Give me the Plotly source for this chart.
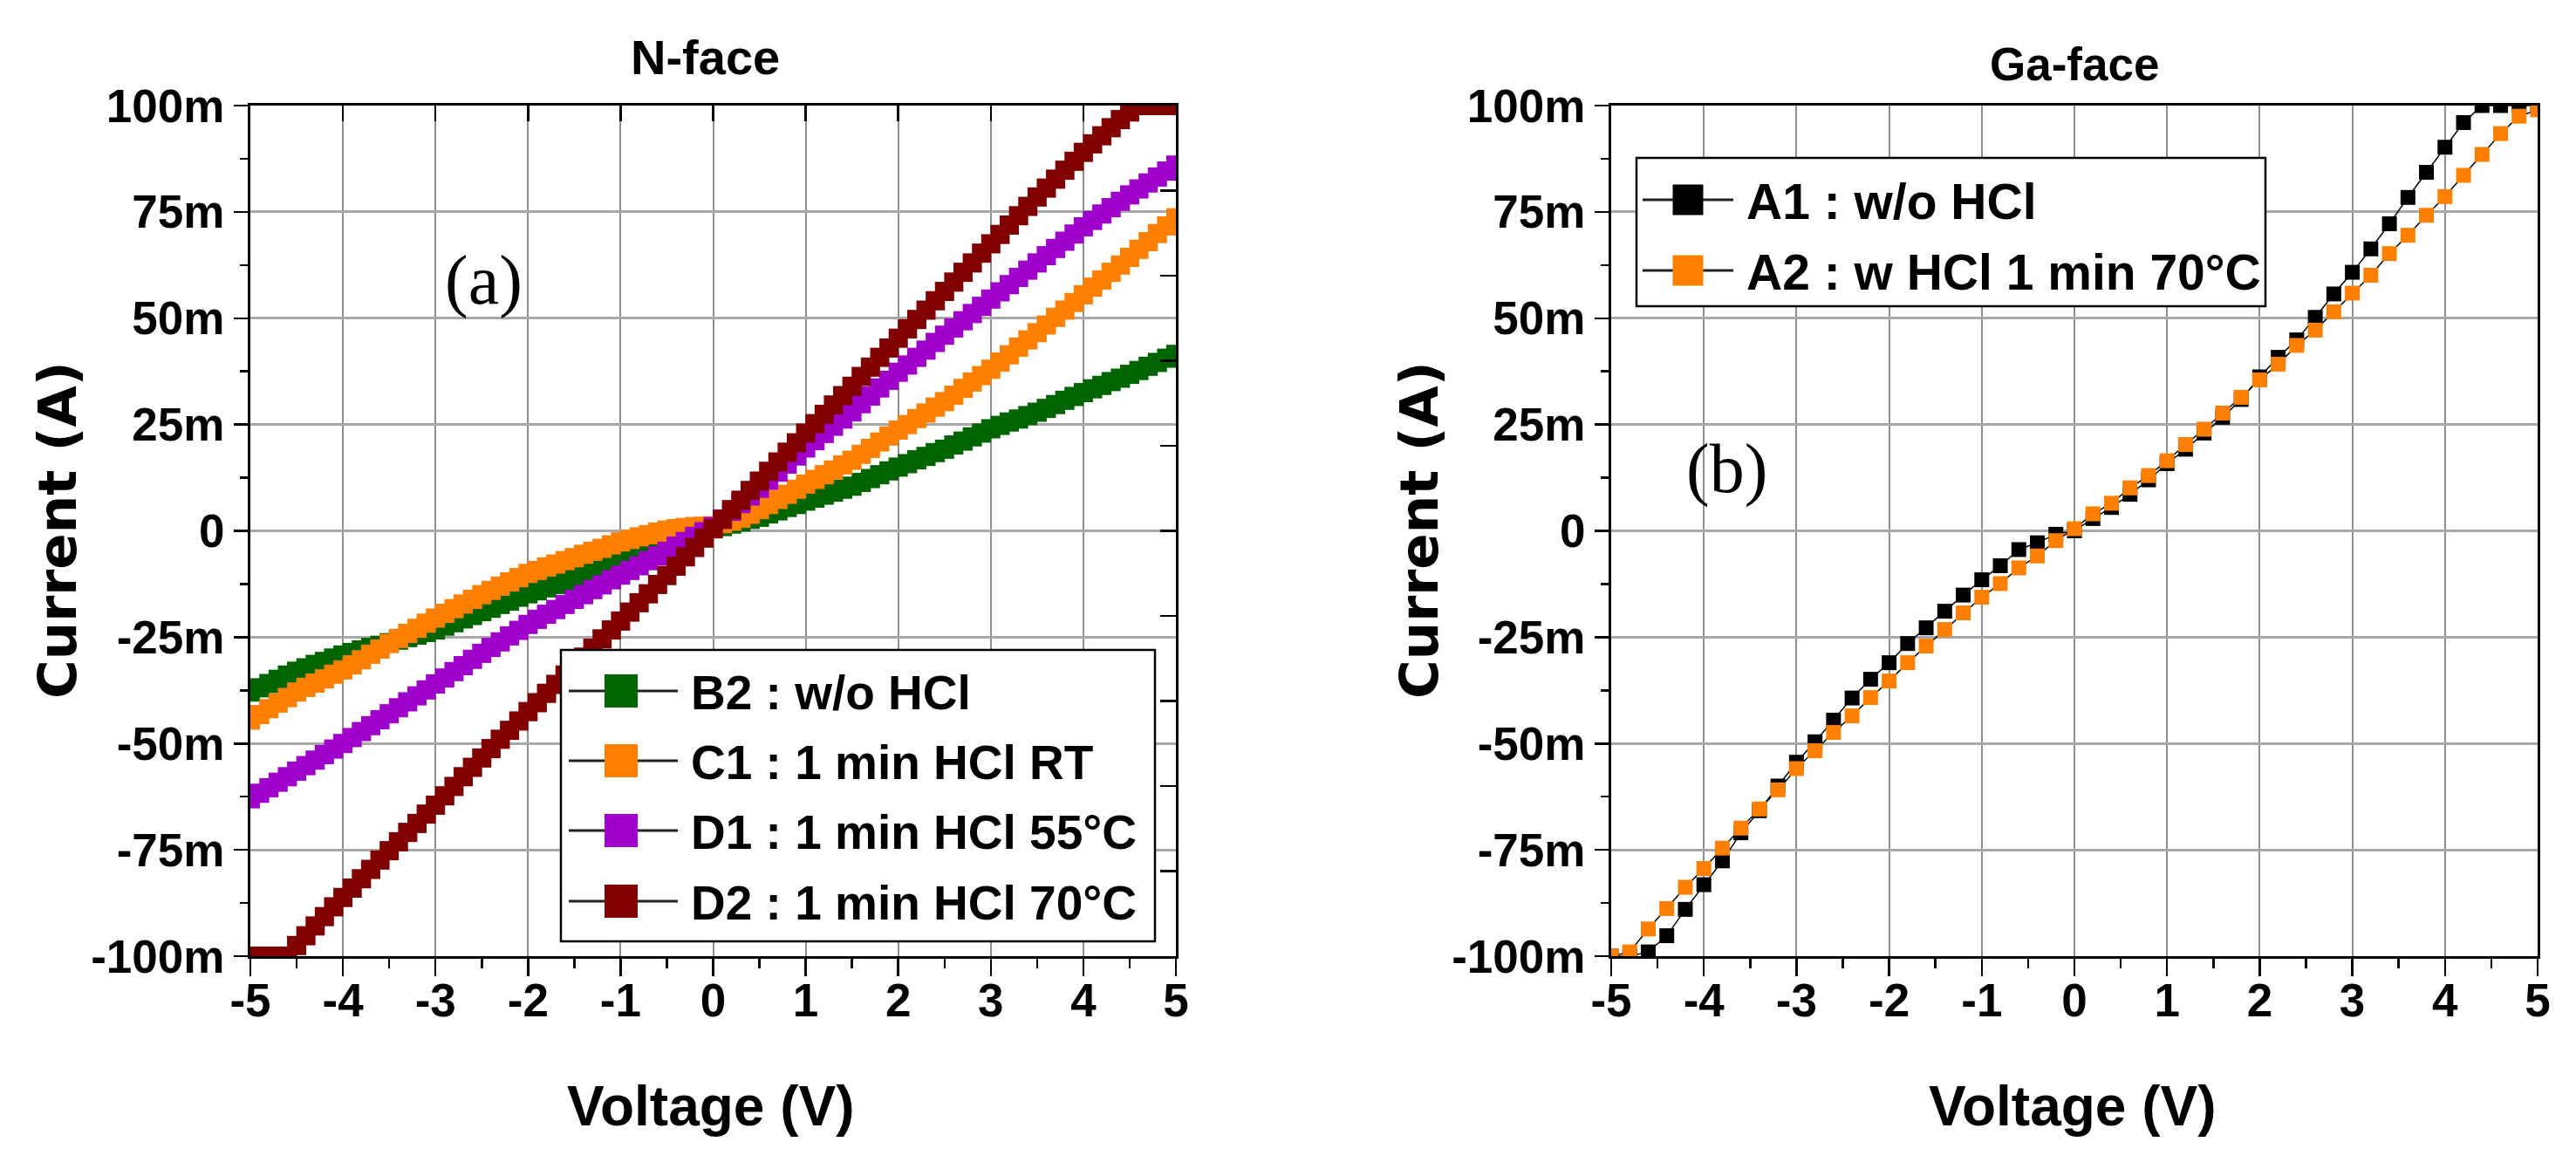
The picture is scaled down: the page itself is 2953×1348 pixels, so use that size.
import plotly.graph_objects as go

W, H = 2953, 1348

# ---------------- data ----------------
# N-face sweep: -5 V .. 5 V in 0.1 V steps
voltage_nface = [round(-5 + 0.1 * i, 1) for i in range(101)]
# Ga-face sweep: -5 V .. 5 V in 0.2 V steps
voltage_gaface = [round(-5 + 0.2 * i, 1) for i in range(51)]

# currents in mA (axis labels carry the "m")
b2_current = [-37.9, -36.9, -35.9, -34.9, -33.9, -33.0, -32.2, -31.4, -30.7, -29.9,
              -29.2, -28.6, -28.0, -27.4, -26.9, -26.3, -25.7, -25.1, -24.5, -23.9,
              -23.3, -22.4, -21.6, -20.7, -19.9, -19.0, -18.2, -17.3, -16.5, -15.6,
              -14.8, -14.1, -13.4, -12.6, -11.9, -11.2, -10.5, -9.7, -9.0, -8.2,
              -7.5, -6.8, -6.1, -5.4, -4.7, -4.0, -3.1, -2.2, -1.3, -0.4,
              0.5, 1.0, 1.6, 2.1, 2.7, 3.2, 4.0, 4.7, 5.5, 6.2,
              7.0, 7.7, 8.4, 9.1, 9.8, 10.5, 11.4, 12.3, 13.2, 14.1,
              15.0, 15.8, 16.7, 17.5, 18.4, 19.2, 20.2, 21.1, 22.1, 23.0,
              24.0, 24.8, 25.6, 26.3, 27.1, 27.9, 28.8, 29.7, 30.7, 31.6,
              32.5, 33.4, 34.2, 35.1, 35.9, 36.8, 37.7, 38.7, 39.6, 40.6,
              41.5]
c1_current = [-44.5, -43.2, -41.8, -40.5, -39.2, -37.9, -36.8, -35.8, -34.8, -33.7,
              -32.7, -31.5, -30.3, -29.0, -27.8, -26.5, -25.3, -24.1, -22.9, -21.7,
              -20.5, -19.4, -18.3, -17.2, -16.1, -15.0, -14.0, -13.0, -12.0, -11.0,
              -10.0, -9.3, -8.5, -7.8, -7.0, -6.3, -5.5, -4.8, -4.1, -3.3,
              -2.6, -2.0, -1.4, -0.9, -0.3, 0.2, 0.5, 0.8, 1.0, 1.1,
              1.2, 1.7, 2.3, 3.0, 3.9, 5.0, 6.2, 7.4, 8.6, 9.8,
              11.0, 12.1, 13.2, 14.3, 15.5, 16.6, 18.0, 19.4, 20.9, 22.3,
              23.7, 25.0, 26.4, 27.7, 29.1, 30.4, 31.9, 33.5, 35.0, 36.5,
              38.0, 39.7, 41.4, 43.2, 44.9, 46.6, 48.4, 50.2, 51.9, 53.7,
              55.5, 57.3, 59.0, 60.8, 62.5, 64.3, 66.2, 68.0, 69.9, 71.7,
              73.6]
d1_current = [-63.0, -61.7, -60.4, -59.1, -57.8, -56.5, -55.2, -53.9, -52.6, -51.3,
              -50.0, -48.6, -47.2, -45.8, -44.4, -43.0, -41.6, -40.2, -38.8, -37.4,
              -36.0, -34.6, -33.1, -31.7, -30.2, -28.8, -27.4, -26.1, -24.7, -23.4,
              -22.0, -20.8, -19.6, -18.5, -17.3, -16.1, -15.0, -13.8, -12.7, -11.5,
              -10.4, -9.3, -8.2, -7.0, -5.9, -4.8, -3.6, -2.5, -1.3, -0.2,
              1.0, 2.8, 4.6, 6.4, 8.2, 10.0, 11.9, 13.8, 15.7, 17.6,
              19.5, 21.2, 22.9, 24.6, 26.3, 28.0, 29.9, 31.7, 33.6, 35.4,
              37.3, 39.0, 40.8, 42.5, 44.3, 46.0, 47.7, 49.4, 51.1, 52.8,
              54.5, 56.2, 57.9, 59.6, 61.3, 63.0, 64.7, 66.4, 68.1, 69.8,
              71.5, 73.0, 74.5, 76.0, 77.5, 79.0, 80.4, 81.8, 83.2, 84.6,
              86.0]
d2_current = [-100.0, -100.0, -100.0, -100.0, -100.0, -97.5, -95.2, -92.9, -90.7, -88.4,
              -86.2, -84.0, -81.8, -79.6, -77.4, -75.2, -73.1, -70.9, -68.8, -66.6,
              -64.5, -62.3, -60.1, -57.8, -55.6, -53.4, -51.2, -49.0, -46.9, -44.7,
              -42.5, -40.4, -38.2, -36.1, -33.9, -31.8, -29.7, -27.6, -25.4, -23.3,
              -21.2, -19.1, -16.9, -14.8, -12.6, -10.5, -8.3, -6.1, -3.9, -1.7,
              0.5, 2.7, 5.0, 7.2, 9.5, 11.7, 14.0, 16.2, 18.5, 20.7,
              23.0, 25.2, 27.4, 29.6, 31.8, 34.0, 36.3, 38.5, 40.8, 43.0,
              45.3, 47.5, 49.7, 51.9, 54.1, 56.3, 58.5, 60.8, 63.0, 65.3,
              67.5, 69.7, 71.9, 74.1, 76.3, 78.5, 80.6, 82.7, 84.8, 86.9,
              89.0, 91.0, 92.9, 94.8, 96.7, 98.5, 100.0, 100.0, 100.0, 100.0,
              100.0]
a1_current = [-100.0, -100.0, -99.0, -95.2, -89.0, -83.2, -77.6, -71.0, -65.8, -60.0,
              -54.4, -49.6, -44.5, -39.3, -34.9, -31.0, -26.5, -22.8, -18.9, -15.1,
              -11.5, -8.2, -4.4, -2.8, -0.8, 0.0, 2.9, 5.5, 8.6, 12.0,
              15.8, 19.2, 23.0, 26.7, 30.9, 36.2, 40.8, 44.9, 50.2, 55.7,
              60.8, 66.3, 72.2, 78.4, 84.3, 90.2, 96.0, 100.0, 100.0, 100.0,
              100.0]
a2_current = [-100.0, -99.0, -93.6, -88.8, -83.8, -79.4, -74.6, -69.9, -65.4, -60.9,
              -55.9, -51.7, -47.4, -43.5, -39.2, -35.3, -31.0, -27.1, -23.2, -19.3,
              -15.6, -12.4, -8.7, -5.9, -2.3, 0.5, 4.0, 6.5, 10.1, 13.0,
              16.5, 20.3, 23.9, 27.7, 31.4, 35.5, 39.2, 43.6, 47.2, 51.5,
              55.9, 60.1, 65.2, 69.5, 74.2, 78.6, 83.6, 88.5, 93.4, 97.5,
              99.0]

nface_names = ["B2 : w/o HCl", "C1 : 1 min HCl RT", "D1 : 1 min HCl 55°C", "D2 : 1 min HCl 70°C"]
nface_colors = ["#006400", "#ff8000", "#a000cc", "#800000"]
nface_series = [b2_current, c1_current, d1_current, d2_current]

gaface_names = ["A1 : w/o HCl", "A2 : w HCl 1 min 70°C"]
gaface_colors = ["#000000", "#ff8000"]
gaface_series = [a1_current, a2_current]

x_tick_vals = [-5, -4, -3, -2, -1, 0, 1, 2, 3, 4, 5]
x_tick_text = ["-5", "-4", "-3", "-2", "-1", "0", "1", "2", "3", "4", "5"]
y_tick_vals = [-100, -75, -50, -25, 0, 25, 50, 75, 100]
y_tick_text = ["-100m", "-75m", "-50m", "-25m", "0", "25m", "50m", "75m", "100m"]

# ---------------- helpers ----------------
def px(X):
    return X / W


def py(Y):
    return 1 - Y / H


SANS = "Liberation Sans, Arial, sans-serif"
TICKFONT = dict(family=SANS, size=53, color="black", weight="bold")

fig = go.Figure()

for name, col, ys in zip(nface_names, nface_colors, nface_series):
    fig.add_trace(go.Scatter(
        x=voltage_nface, y=ys, name=name, mode="markers",
        marker=dict(symbol="square", size=22, color=col, line=dict(width=0)),
        xaxis="x", yaxis="y", showlegend=False))

for name, col, ys in zip(gaface_names, gaface_colors, gaface_series):
    fig.add_trace(go.Scatter(
        x=voltage_gaface, y=ys, name=name, mode="lines+markers",
        line=dict(color="black", width=1.5),
        marker=dict(symbol="square", size=17, color=col, line=dict(width=0)),
        xaxis="x2", yaxis="y2", showlegend=False))

# empty traces so the mirrored tick axes are registered
fig.add_trace(go.Scatter(x=[], y=[], xaxis="x3", yaxis="y", showlegend=False))
fig.add_trace(go.Scatter(x=[], y=[], xaxis="x", yaxis="y3", showlegend=False))

dom_y = [py(1096), py(121)]
dom_x1 = [px(287), px(1348)]
dom_x2 = [px(1847), px(2909)]


def xaxis_cfg(domain, anchor):
    return dict(
        domain=domain, anchor=anchor, range=[-5, 5], automargin=False,
        tickmode="array", tickvals=x_tick_vals, ticktext=x_tick_text,
        ticks="outside", ticklen=20, tickwidth=2.5, tickcolor="black",
        showline=True, linecolor="black", linewidth=3, mirror=True,
        showgrid=True, gridcolor="#8f8f8f", gridwidth=2, zeroline=False,
        tickfont=TICKFONT, ticklabelstandoff=-18,
        minor=dict(tickmode="linear", tick0=-5, dtick=0.5, ticks="outside",
                   ticklen=11, tickwidth=2.5, tickcolor="black", showgrid=False),
        fixedrange=True)


def yaxis_cfg(anchor):
    return dict(
        domain=dom_y, anchor=anchor, range=[-100, 100], automargin=False,
        tickmode="array", tickvals=y_tick_vals, ticktext=y_tick_text,
        ticks="outside", ticklen=16, tickwidth=2.5, tickcolor="black",
        showline=True, linecolor="black", linewidth=3, mirror=True,
        showgrid=True, gridcolor="#a8a8a8", gridwidth=3, zeroline=False,
        tickfont=TICKFONT, ticklabelstandoff=0,
        minor=dict(tickmode="linear", tick0=0, dtick=12.5, ticks="outside",
                   ticklen=9, tickwidth=2.5, tickcolor="black", showgrid=False),
        fixedrange=True)


fig.update_layout(
    width=W, height=H,
    margin=dict(l=0, r=0, t=0, b=0, pad=0, autoexpand=False),
    paper_bgcolor="white", plot_bgcolor="white",
    showlegend=False,
    xaxis=xaxis_cfg(dom_x1, "y"),
    yaxis=yaxis_cfg("x"),
    xaxis2=xaxis_cfg(dom_x2, "y2"),
    yaxis2=yaxis_cfg("x2"),
    xaxis3=dict(overlaying="x", anchor="y", side="top", range=[-5, 5], automargin=False,
                tickmode="linear", tick0=-5, dtick=1, ticks="inside", ticklen=18,
                tickwidth=2.5, tickcolor="black", showticklabels=False,
                showgrid=False, zeroline=False, showline=False, fixedrange=True),
    yaxis3=dict(overlaying="y", anchor="x", side="right", range=[-100, 100], automargin=False,
                tickmode="linear", tick0=0, dtick=20, ticks="inside", ticklen=18,
                tickwidth=2.5, tickcolor="black", showticklabels=False,
                showgrid=False, zeroline=False, showline=False, fixedrange=True),
)

annotations = []
shapes = []

# panel titles
annotations.append(dict(text="N-face", x=px(808), y=py(65), xref="paper", yref="paper",
                        showarrow=False, xanchor="center", yanchor="middle",
                        font=dict(family=SANS, size=56, color="black", weight="bold")))
annotations.append(dict(text="Ga-face", x=px(2378), y=py(74), xref="paper", yref="paper",
                        showarrow=False, xanchor="center", yanchor="middle",
                        font=dict(family=SANS, size=53, color="black", weight="bold")))

# axis titles
for cx in (815, 2376):
    annotations.append(dict(text="Voltage (V)", x=px(cx), y=py(1268), xref="paper", yref="paper",
                            showarrow=False, xanchor="center", yanchor="middle",
                            font=dict(family=SANS, size=64, color="black", weight="bold")))
for cx in (65, 1626):
    annotations.append(dict(text="Current (A)", x=px(cx), y=py(608), xref="paper", yref="paper",
                            showarrow=False, xanchor="center", yanchor="middle", textangle=-90,
                            font=dict(family="DejaVu Sans, Verdana, sans-serif", size=61,
                                      color="black", weight="bold")))

# panel labels
SERIF = "Liberation Serif, Times New Roman, serif"
annotations.append(dict(text="(a)", x=px(554), y=py(322), xref="paper", yref="paper",
                        showarrow=False, xanchor="center", yanchor="middle",
                        font=dict(family=SERIF, size=80, color="black")))
annotations.append(dict(text="(b)", x=px(1979), y=py(537), xref="paper", yref="paper",
                        showarrow=False, xanchor="center", yanchor="middle",
                        font=dict(family=SERIF, size=80, color="black")))


def add_legend(box, rows, names, colors, line_x, mark_cx, mark_size, text_x, font_size):
    x0, y0, x1, y1 = box
    shapes.append(dict(type="rect", xref="paper", yref="paper",
                       x0=px(x0), x1=px(x1), y0=py(y1), y1=py(y0),
                       fillcolor="white", line=dict(color="black", width=2.5), layer="above"))
    for ry, nm, col in zip(rows, names, colors):
        shapes.append(dict(type="line", xref="paper", yref="paper",
                           x0=px(line_x[0]), x1=px(line_x[1]), y0=py(ry), y1=py(ry),
                           line=dict(color="#222222", width=3), layer="above"))
        h = mark_size / 2
        shapes.append(dict(type="rect", xref="paper", yref="paper",
                           x0=px(mark_cx - h), x1=px(mark_cx + h), y0=py(ry + h), y1=py(ry - h),
                           fillcolor=col, line=dict(width=0), layer="above"))
        annotations.append(dict(text=nm, x=px(text_x), y=py(ry + 2), xref="paper", yref="paper",
                                showarrow=False, xanchor="left", yanchor="middle",
                                font=dict(family=SANS, size=font_size, color="black", weight="bold")))


add_legend((643, 745, 1324, 1079), [792, 872, 952, 1033], nface_names, nface_colors,
           (652, 777), 712, 38, 790, 55)
add_legend((1876, 181, 2597, 351), [229, 310], gaface_names, gaface_colors,
           (1883, 1987), 1935, 35, 2000, 57)

fig.update_layout(annotations=annotations, shapes=shapes)

fig.write_html("out.html",
               config={"displayModeBar": False, "staticPlot": True},
               post_script="document.body.style.margin='0px';document.body.style.overflow='hidden';")
